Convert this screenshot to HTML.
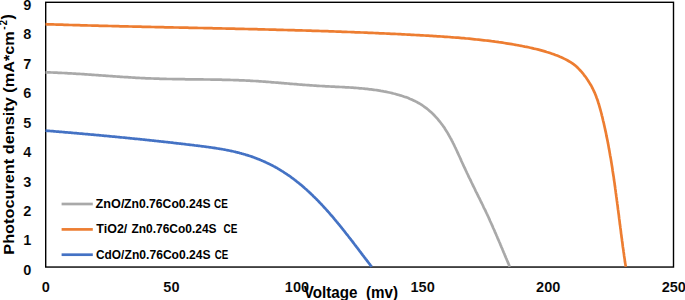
<!DOCTYPE html>
<html><head><meta charset="utf-8">
<style>
html,body{margin:0;padding:0;background:#fff;}
body{width:685px;height:300px;overflow:hidden;}
svg{display:block;}
text{font-family:"Liberation Sans",sans-serif;font-weight:bold;fill:#000;}
</style></head><body>
<svg width="685" height="300" viewBox="0 0 685 300">
<rect x="0" y="0" width="685" height="300" fill="#fff"/>
<rect x="45.7" y="2.3" width="627.8" height="264.75" fill="none" stroke="#000" stroke-width="1.4"/>
<path d="M45.5,72.3 L46.9,72.4 L48.3,72.4 L49.8,72.4 L51.2,72.5 L52.6,72.5 L54.0,72.6 L55.4,72.7 L56.9,72.7 L58.3,72.8 L59.7,72.8 L61.1,72.9 L62.5,73.0 L63.9,73.0 L65.4,73.1 L66.8,73.2 L68.2,73.3 L69.6,73.3 L71.0,73.4 L72.4,73.5 L73.9,73.6 L75.3,73.7 L76.7,73.8 L78.1,73.9 L79.5,73.9 L80.9,74.0 L82.3,74.1 L83.8,74.2 L85.2,74.3 L86.6,74.4 L88.0,74.5 L89.4,74.6 L90.8,74.7 L92.2,74.8 L93.6,74.9 L95.1,75.0 L96.5,75.1 L97.9,75.2 L99.3,75.3 L100.7,75.4 L102.1,75.5 L103.5,75.6 L105.0,75.7 L106.4,75.8 L107.8,75.9 L109.2,76.0 L110.6,76.1 L112.0,76.2 L113.4,76.3 L114.8,76.4 L116.3,76.5 L117.7,76.6 L119.1,76.7 L120.5,76.8 L121.9,76.9 L123.3,77.0 L124.7,77.1 L126.1,77.2 L127.6,77.2 L129.0,77.3 L130.4,77.4 L131.8,77.5 L133.2,77.6 L134.6,77.7 L136.0,77.8 L137.5,77.8 L138.9,77.9 L140.3,78.0 L141.7,78.1 L143.1,78.1 L144.5,78.2 L146.0,78.3 L147.4,78.3 L148.8,78.4 L150.2,78.4 L151.6,78.5 L153.0,78.5 L154.5,78.6 L155.9,78.6 L157.3,78.7 L158.7,78.7 L160.1,78.8 L161.5,78.8 L163.0,78.9 L164.4,78.9 L165.8,78.9 L167.2,79.0 L168.6,79.0 L170.1,79.0 L171.5,79.0 L172.9,79.1 L174.3,79.1 L175.7,79.1 L177.2,79.1 L178.6,79.2 L180.0,79.2 L181.4,79.2 L182.8,79.2 L184.3,79.2 L185.7,79.3 L187.1,79.3 L188.5,79.3 L189.9,79.3 L191.4,79.3 L192.8,79.3 L194.2,79.4 L195.6,79.4 L197.0,79.4 L198.5,79.4 L199.9,79.4 L201.3,79.4 L202.7,79.4 L204.1,79.5 L205.6,79.5 L207.0,79.5 L208.4,79.5 L209.8,79.5 L211.2,79.6 L212.7,79.6 L214.1,79.6 L215.5,79.6 L216.9,79.6 L218.3,79.7 L219.8,79.7 L221.2,79.7 L222.6,79.8 L224.0,79.8 L225.4,79.8 L226.9,79.9 L228.3,79.9 L229.7,79.9 L231.1,80.0 L232.5,80.0 L233.9,80.1 L235.4,80.1 L236.8,80.2 L238.2,80.2 L239.6,80.3 L241.0,80.3 L242.4,80.4 L243.8,80.4 L245.3,80.5 L246.7,80.6 L248.1,80.6 L249.5,80.7 L250.9,80.8 L252.3,80.9 L253.7,81.0 L255.2,81.0 L256.6,81.1 L258.0,81.2 L259.4,81.3 L260.8,81.4 L262.2,81.5 L263.6,81.6 L265.0,81.7 L266.4,81.8 L267.8,81.9 L269.3,82.0 L270.7,82.1 L272.1,82.3 L273.5,82.4 L274.9,82.5 L276.3,82.6 L277.7,82.7 L279.1,82.8 L280.5,82.9 L281.9,83.1 L283.4,83.2 L284.8,83.3 L286.2,83.4 L287.6,83.5 L289.0,83.6 L290.4,83.8 L291.8,83.9 L293.2,84.0 L294.6,84.1 L296.0,84.2 L297.5,84.3 L298.9,84.5 L300.3,84.6 L301.7,84.7 L303.1,84.8 L304.5,84.9 L305.9,85.0 L307.3,85.1 L308.8,85.2 L310.2,85.3 L311.6,85.4 L313.0,85.5 L314.4,85.6 L315.8,85.7 L317.3,85.8 L318.7,85.9 L320.1,86.0 L321.5,86.0 L322.9,86.1 L324.3,86.2 L325.8,86.3 L327.2,86.3 L328.6,86.4 L330.0,86.5 L331.5,86.6 L332.9,86.6 L334.3,86.7 L335.7,86.8 L337.1,86.8 L338.6,86.9 L340.0,87.0 L341.4,87.0 L342.8,87.1 L344.2,87.2 L345.7,87.3 L347.1,87.4 L348.5,87.4 L349.9,87.5 L351.3,87.6 L352.8,87.7 L354.2,87.8 L355.6,87.9 L357.0,88.0 L358.4,88.1 L359.8,88.3 L361.3,88.4 L362.7,88.5 L364.1,88.6 L365.5,88.8 L366.9,88.9 L368.3,89.1 L369.7,89.3 L371.1,89.4 L372.5,89.6 L373.9,89.8 L375.3,90.0 L376.7,90.2 L378.1,90.4 L379.5,90.6 L380.9,90.9 L382.3,91.1 L383.7,91.4 L385.1,91.6 L386.5,91.9 L387.9,92.2 L389.3,92.5 L390.6,92.8 L392.0,93.1 L393.4,93.5 L394.8,93.8 L396.1,94.2 L397.5,94.6 L398.9,94.9 L400.3,95.4 L401.6,95.8 L403.0,96.2 L404.3,96.7 L405.7,97.1 L407.0,97.6 L408.3,98.1 L409.6,98.7 L410.9,99.2 L412.2,99.8 L413.5,100.4 L414.8,101.0 L416.0,101.6 L417.3,102.3 L418.5,103.0 L419.7,103.7 L420.9,104.4 L422.1,105.2 L423.3,106.0 L424.4,106.8 L425.5,107.6 L426.6,108.4 L427.7,109.3 L428.8,110.2 L429.9,111.2 L430.9,112.1 L432.0,113.1 L433.0,114.0 L434.0,115.0 L435.0,116.1 L435.9,117.1 L436.9,118.2 L437.8,119.2 L438.7,120.3 L439.6,121.4 L440.5,122.5 L441.4,123.7 L442.2,124.8 L443.1,126.0 L443.9,127.1 L444.7,128.3 L445.4,129.5 L446.2,130.7 L447.0,131.9 L447.7,133.1 L448.4,134.3 L449.1,135.6 L449.8,136.8 L450.5,138.1 L451.2,139.3 L451.8,140.6 L452.5,141.8 L453.1,143.1 L453.8,144.4 L454.4,145.7 L455.0,147.0 L455.6,148.2 L456.2,149.5 L456.8,150.8 L457.4,152.1 L458.0,153.4 L458.6,154.7 L459.2,156.0 L459.8,157.3 L460.4,158.6 L461.0,159.9 L461.5,161.2 L462.1,162.5 L462.7,163.8 L463.3,165.1 L463.9,166.4 L464.5,167.6 L465.1,168.9 L465.7,170.2 L466.3,171.5 L466.9,172.8 L467.5,174.0 L468.1,175.3 L468.7,176.6 L469.3,177.9 L470.0,179.1 L470.6,180.4 L471.2,181.7 L471.8,183.0 L472.4,184.2 L473.0,185.5 L473.7,186.8 L474.3,188.0 L474.9,189.3 L475.5,190.6 L476.1,191.8 L476.8,193.1 L477.4,194.4 L478.0,195.6 L478.6,196.9 L479.3,198.2 L479.9,199.4 L480.5,200.7 L481.1,202.0 L481.8,203.2 L482.4,204.5 L483.0,205.8 L483.6,207.1 L484.2,208.3 L484.9,209.6 L485.5,210.9 L486.1,212.2 L486.7,213.5 L487.3,214.7 L487.9,216.0 L488.5,217.3 L489.1,218.6 L489.7,219.9 L490.2,221.2 L490.8,222.5 L491.4,223.8 L492.0,225.1 L492.6,226.4 L493.1,227.7 L493.7,229.0 L494.3,230.3 L494.8,231.6 L495.4,232.9 L496.0,234.2 L496.5,235.5 L497.1,236.8 L497.6,238.1 L498.2,239.4 L498.8,240.7 L499.3,242.0 L499.9,243.3 L500.4,244.6 L501.0,245.9 L501.5,247.2 L502.1,248.5 L502.6,249.8 L503.2,251.2 L503.7,252.5 L504.3,253.8 L504.8,255.1 L505.4,256.4 L505.9,257.7 L506.5,259.0 L507.0,260.3 L507.6,261.6 L508.1,262.9 L508.7,264.2 L509.2,265.5 L509.8,266.8" fill="none" stroke="#A9A9A9" stroke-width="2.7" stroke-linejoin="round"/>
<path d="M45.5,24.2 L47.4,24.3 L49.2,24.3 L51.1,24.4 L53.0,24.4 L54.8,24.5 L56.7,24.6 L58.6,24.6 L60.4,24.7 L62.3,24.7 L64.2,24.8 L66.0,24.8 L67.9,24.9 L69.8,25.0 L71.6,25.0 L73.5,25.1 L75.4,25.1 L77.2,25.2 L79.1,25.2 L81.0,25.3 L82.8,25.3 L84.7,25.4 L86.6,25.4 L88.4,25.5 L90.3,25.5 L92.2,25.6 L94.0,25.6 L95.9,25.7 L97.8,25.7 L99.6,25.8 L101.5,25.8 L103.4,25.9 L105.2,25.9 L107.1,25.9 L109.0,26.0 L110.8,26.0 L112.7,26.1 L114.6,26.1 L116.4,26.2 L118.3,26.2 L120.2,26.3 L122.0,26.3 L123.9,26.4 L125.8,26.4 L127.6,26.4 L129.5,26.5 L131.4,26.5 L133.2,26.6 L135.1,26.6 L137.0,26.6 L138.8,26.7 L140.7,26.7 L142.6,26.8 L144.5,26.8 L146.3,26.9 L148.2,26.9 L150.1,26.9 L151.9,27.0 L153.8,27.0 L155.7,27.1 L157.5,27.1 L159.4,27.1 L161.3,27.2 L163.1,27.2 L165.0,27.3 L166.9,27.3 L168.7,27.3 L170.6,27.4 L172.5,27.4 L174.3,27.5 L176.2,27.5 L178.1,27.5 L179.9,27.6 L181.8,27.6 L183.7,27.6 L185.6,27.7 L187.4,27.7 L189.3,27.8 L191.2,27.8 L193.0,27.8 L194.9,27.9 L196.8,27.9 L198.6,28.0 L200.5,28.0 L202.4,28.0 L204.2,28.1 L206.1,28.1 L208.0,28.2 L209.8,28.2 L211.7,28.2 L213.6,28.3 L215.5,28.3 L217.3,28.4 L219.2,28.4 L221.1,28.4 L222.9,28.5 L224.8,28.5 L226.7,28.6 L228.5,28.6 L230.4,28.6 L232.3,28.7 L234.1,28.7 L236.0,28.8 L237.9,28.8 L239.7,28.8 L241.6,28.9 L243.5,28.9 L245.4,29.0 L247.2,29.0 L249.1,29.1 L251.0,29.1 L252.8,29.2 L254.7,29.2 L256.6,29.2 L258.4,29.3 L260.3,29.3 L262.2,29.4 L264.0,29.4 L265.9,29.5 L267.8,29.5 L269.6,29.6 L271.5,29.6 L273.4,29.7 L275.2,29.7 L277.1,29.8 L279.0,29.8 L280.8,29.9 L282.7,29.9 L284.6,30.0 L286.5,30.0 L288.3,30.1 L290.2,30.1 L292.1,30.2 L293.9,30.2 L295.8,30.3 L297.7,30.3 L299.5,30.4 L301.4,30.4 L303.3,30.5 L305.1,30.5 L307.0,30.6 L308.9,30.6 L310.7,30.7 L312.6,30.8 L314.5,30.8 L316.3,30.9 L318.2,30.9 L320.1,31.0 L321.9,31.1 L323.8,31.1 L325.7,31.2 L327.5,31.2 L329.4,31.3 L331.3,31.4 L333.1,31.4 L335.0,31.5 L336.9,31.6 L338.7,31.6 L340.6,31.7 L342.5,31.8 L344.3,31.8 L346.2,31.9 L348.1,32.0 L349.9,32.0 L351.8,32.1 L353.7,32.2 L355.5,32.3 L357.4,32.3 L359.3,32.4 L361.1,32.5 L363.0,32.5 L364.9,32.6 L366.7,32.7 L368.6,32.8 L370.5,32.9 L372.3,32.9 L374.2,33.0 L376.1,33.1 L377.9,33.2 L379.8,33.3 L381.7,33.3 L383.5,33.4 L385.4,33.5 L387.3,33.6 L389.1,33.7 L391.0,33.8 L392.9,33.9 L394.7,33.9 L396.6,34.0 L398.4,34.1 L400.3,34.2 L402.2,34.3 L404.0,34.4 L405.9,34.5 L407.8,34.6 L409.6,34.7 L411.5,34.8 L413.4,34.9 L415.2,35.0 L417.1,35.1 L419.0,35.2 L420.8,35.3 L422.7,35.4 L424.5,35.5 L426.4,35.6 L428.3,35.7 L430.1,35.8 L432.0,35.9 L433.9,36.1 L435.7,36.2 L437.6,36.3 L439.4,36.4 L441.3,36.5 L443.2,36.6 L445.0,36.8 L446.9,36.9 L448.8,37.0 L450.6,37.2 L452.5,37.3 L454.3,37.5 L456.2,37.6 L458.1,37.7 L459.9,37.9 L461.8,38.1 L463.6,38.2 L465.5,38.4 L467.4,38.5 L469.2,38.7 L471.1,38.9 L472.9,39.1 L474.8,39.3 L476.6,39.5 L478.5,39.7 L480.4,39.9 L482.2,40.1 L484.1,40.3 L485.9,40.5 L487.8,40.7 L489.6,40.9 L491.5,41.2 L493.3,41.4 L495.2,41.7 L497.0,41.9 L498.9,42.2 L500.7,42.4 L502.6,42.7 L504.4,43.0 L506.3,43.3 L508.1,43.6 L510.0,43.9 L511.8,44.2 L513.7,44.5 L515.5,44.8 L517.4,45.2 L519.2,45.5 L521.1,45.8 L522.9,46.2 L524.8,46.6 L526.6,46.9 L528.4,47.3 L530.3,47.7 L532.1,48.1 L533.9,48.6 L535.8,49.0 L537.6,49.4 L539.4,49.9 L541.2,50.4 L543.0,50.9 L544.8,51.4 L546.6,52.0 L548.4,52.5 L550.1,53.1 L551.9,53.7 L553.7,54.3 L555.4,55.0 L557.1,55.6 L558.9,56.3 L560.6,57.1 L562.3,57.8 L564.0,58.6 L565.6,59.4 L567.3,60.3 L568.9,61.2 L570.5,62.1 L572.0,63.1 L573.5,64.2 L575.0,65.3 L576.4,66.5 L577.7,67.8 L579.0,69.1 L580.3,70.5 L581.6,71.9 L582.8,73.3 L583.9,74.8 L585.1,76.3 L586.2,77.8 L587.3,79.4 L588.3,81.0 L589.3,82.6 L590.3,84.2 L591.3,85.8 L592.1,87.5 L593.0,89.2 L593.8,90.9 L594.6,92.6 L595.3,94.3 L596.0,96.0 L596.6,97.7 L597.3,99.5 L597.9,101.3 L598.4,103.0 L599.0,104.8 L599.5,106.6 L600.0,108.4 L600.5,110.2 L601.0,112.0 L601.5,113.8 L601.9,115.6 L602.4,117.4 L602.8,119.2 L603.2,121.0 L603.7,122.8 L604.1,124.7 L604.5,126.5 L604.9,128.3 L605.3,130.1 L605.7,131.9 L606.1,133.8 L606.4,135.6 L606.8,137.4 L607.2,139.2 L607.6,141.1 L607.9,142.9 L608.3,144.7 L608.6,146.6 L608.9,148.4 L609.3,150.2 L609.6,152.1 L609.9,153.9 L610.2,155.8 L610.6,157.6 L610.9,159.4 L611.2,161.3 L611.5,163.1 L611.8,165.0 L612.1,166.8 L612.4,168.7 L612.6,170.5 L612.9,172.4 L613.2,174.2 L613.5,176.1 L613.8,177.9 L614.0,179.8 L614.3,181.6 L614.6,183.5 L614.8,185.3 L615.1,187.2 L615.3,189.0 L615.6,190.9 L615.8,192.7 L616.1,194.6 L616.3,196.4 L616.6,198.3 L616.8,200.2 L617.1,202.0 L617.3,203.9 L617.6,205.7 L617.8,207.6 L618.0,209.4 L618.3,211.3 L618.5,213.1 L618.8,215.0 L619.0,216.9 L619.2,218.7 L619.5,220.6 L619.7,222.4 L619.9,224.3 L620.2,226.1 L620.4,228.0 L620.7,229.8 L620.9,231.7 L621.1,233.6 L621.4,235.4 L621.6,237.3 L621.9,239.1 L622.1,241.0 L622.4,242.8 L622.6,244.7 L622.8,246.5 L623.1,248.4 L623.4,250.2 L623.6,252.0 L623.9,253.9 L624.1,255.7 L624.4,257.6 L624.7,259.4 L624.9,261.3 L625.2,263.1 L625.5,264.9 L625.8,266.8" fill="none" stroke="#ED7D31" stroke-width="2.7" stroke-linejoin="round"/>
<path d="M45.5,130.6 L46.4,130.7 L47.4,130.8 L48.3,130.9 L49.2,130.9 L50.2,131.0 L51.1,131.1 L52.0,131.2 L53.0,131.2 L53.9,131.3 L54.9,131.4 L55.8,131.5 L56.7,131.6 L57.7,131.6 L58.6,131.7 L59.5,131.8 L60.5,131.9 L61.4,131.9 L62.3,132.0 L63.3,132.1 L64.2,132.2 L65.2,132.3 L66.1,132.3 L67.0,132.4 L68.0,132.5 L68.9,132.6 L69.8,132.7 L70.8,132.7 L71.7,132.8 L72.6,132.9 L73.6,133.0 L74.5,133.1 L75.4,133.1 L76.4,133.2 L77.3,133.3 L78.2,133.4 L79.2,133.5 L80.1,133.6 L81.0,133.6 L82.0,133.7 L82.9,133.8 L83.8,133.9 L84.8,134.0 L85.7,134.1 L86.6,134.1 L87.6,134.2 L88.5,134.3 L89.4,134.4 L90.4,134.5 L91.3,134.6 L92.2,134.6 L93.2,134.7 L94.1,134.8 L95.0,134.9 L96.0,135.0 L96.9,135.1 L97.8,135.2 L98.7,135.2 L99.7,135.3 L100.6,135.4 L101.5,135.5 L102.5,135.6 L103.4,135.7 L104.3,135.8 L105.3,135.8 L106.2,135.9 L107.1,136.0 L108.1,136.1 L109.0,136.2 L109.9,136.3 L110.9,136.4 L111.8,136.5 L112.7,136.6 L113.6,136.6 L114.6,136.7 L115.5,136.8 L116.4,136.9 L117.4,137.0 L118.3,137.1 L119.2,137.2 L120.2,137.3 L121.1,137.4 L122.0,137.5 L123.0,137.5 L123.9,137.6 L124.8,137.7 L125.7,137.8 L126.7,137.9 L127.6,138.0 L128.5,138.1 L129.5,138.2 L130.4,138.3 L131.3,138.4 L132.3,138.5 L133.2,138.6 L134.1,138.7 L135.1,138.8 L136.0,138.8 L136.9,138.9 L137.8,139.0 L138.8,139.1 L139.7,139.2 L140.6,139.3 L141.6,139.4 L142.5,139.5 L143.4,139.6 L144.4,139.7 L145.3,139.8 L146.2,139.9 L147.1,140.0 L148.1,140.1 L149.0,140.2 L149.9,140.3 L150.9,140.4 L151.8,140.5 L152.7,140.6 L153.7,140.7 L154.6,140.8 L155.5,140.9 L156.4,141.0 L157.4,141.1 L158.3,141.2 L159.2,141.3 L160.2,141.4 L161.1,141.5 L162.0,141.6 L163.0,141.7 L163.9,141.8 L164.8,141.9 L165.8,142.0 L166.7,142.1 L167.6,142.2 L168.5,142.3 L169.5,142.4 L170.4,142.5 L171.3,142.6 L172.3,142.7 L173.2,142.8 L174.1,143.0 L175.1,143.1 L176.0,143.2 L176.9,143.3 L177.9,143.4 L178.8,143.5 L179.7,143.6 L180.7,143.7 L181.6,143.8 L182.5,143.9 L183.4,144.0 L184.4,144.1 L185.3,144.2 L186.2,144.4 L187.2,144.5 L188.1,144.6 L189.0,144.7 L190.0,144.8 L190.9,144.9 L191.8,145.0 L192.8,145.1 L193.7,145.2 L194.6,145.4 L195.6,145.5 L196.5,145.6 L197.4,145.7 L198.4,145.8 L199.3,145.9 L200.2,146.0 L201.2,146.2 L202.1,146.3 L203.0,146.4 L204.0,146.5 L204.9,146.6 L205.8,146.8 L206.8,146.9 L207.7,147.0 L208.6,147.1 L209.5,147.3 L210.5,147.4 L211.4,147.5 L212.3,147.7 L213.3,147.8 L214.2,147.9 L215.1,148.1 L216.1,148.2 L217.0,148.4 L217.9,148.5 L218.8,148.7 L219.8,148.8 L220.7,149.0 L221.6,149.1 L222.5,149.3 L223.5,149.5 L224.4,149.6 L225.3,149.8 L226.2,150.0 L227.1,150.2 L228.1,150.3 L229.0,150.5 L229.9,150.7 L230.8,150.9 L231.7,151.1 L232.6,151.3 L233.6,151.5 L234.5,151.7 L235.4,151.9 L236.3,152.2 L237.2,152.4 L238.1,152.6 L239.0,152.8 L239.9,153.1 L240.8,153.3 L241.7,153.6 L242.6,153.8 L243.5,154.1 L244.5,154.3 L245.3,154.6 L246.2,154.9 L247.1,155.1 L248.0,155.4 L248.9,155.7 L249.8,156.0 L250.7,156.3 L251.6,156.6 L252.5,156.9 L253.4,157.2 L254.3,157.6 L255.1,157.9 L256.0,158.2 L256.9,158.6 L257.8,158.9 L258.6,159.2 L259.5,159.6 L260.4,160.0 L261.3,160.3 L262.1,160.7 L263.0,161.1 L263.8,161.4 L264.7,161.8 L265.5,162.2 L266.4,162.6 L267.2,163.0 L268.1,163.4 L268.9,163.8 L269.8,164.2 L270.6,164.6 L271.4,165.1 L272.3,165.5 L273.1,165.9 L273.9,166.4 L274.7,166.8 L275.6,167.3 L276.4,167.7 L277.2,168.2 L278.0,168.7 L278.8,169.1 L279.6,169.6 L280.4,170.1 L281.2,170.6 L282.0,171.1 L282.8,171.5 L283.5,172.0 L284.3,172.6 L285.1,173.1 L285.9,173.6 L286.7,174.1 L287.4,174.6 L288.2,175.1 L288.9,175.7 L289.7,176.2 L290.5,176.7 L291.2,177.3 L292.0,177.8 L292.7,178.4 L293.5,178.9 L294.2,179.5 L294.9,180.1 L295.7,180.6 L296.4,181.2 L297.1,181.8 L297.9,182.4 L298.6,182.9 L299.3,183.5 L300.0,184.1 L300.8,184.7 L301.5,185.3 L302.2,185.9 L302.9,186.5 L303.6,187.1 L304.3,187.7 L305.0,188.4 L305.7,189.0 L306.4,189.6 L307.1,190.2 L307.8,190.9 L308.5,191.5 L309.2,192.1 L309.8,192.8 L310.5,193.4 L311.2,194.0 L311.9,194.7 L312.6,195.3 L313.2,196.0 L313.9,196.7 L314.6,197.3 L315.2,198.0 L315.9,198.6 L316.6,199.3 L317.2,200.0 L317.9,200.6 L318.5,201.3 L319.2,202.0 L319.8,202.7 L320.5,203.4 L321.1,204.0 L321.8,204.7 L322.4,205.4 L323.1,206.1 L323.7,206.8 L324.3,207.5 L325.0,208.2 L325.6,208.9 L326.3,209.6 L326.9,210.3 L327.5,211.0 L328.1,211.7 L328.8,212.4 L329.4,213.1 L330.0,213.8 L330.6,214.6 L331.2,215.3 L331.9,216.0 L332.5,216.7 L333.1,217.4 L333.7,218.1 L334.3,218.9 L334.9,219.6 L335.5,220.3 L336.1,221.0 L336.7,221.8 L337.3,222.5 L337.9,223.2 L338.5,224.0 L339.1,224.7 L339.7,225.4 L340.3,226.2 L340.9,226.9 L341.5,227.6 L342.1,228.4 L342.7,229.1 L343.3,229.9 L343.9,230.6 L344.5,231.3 L345.0,232.1 L345.6,232.8 L346.2,233.6 L346.8,234.3 L347.4,235.0 L348.0,235.8 L348.5,236.5 L349.1,237.3 L349.7,238.0 L350.3,238.8 L350.8,239.5 L351.4,240.2 L352.0,241.0 L352.6,241.7 L353.1,242.5 L353.7,243.2 L354.3,244.0 L354.8,244.7 L355.4,245.5 L356.0,246.2 L356.5,246.9 L357.1,247.7 L357.7,248.4 L358.2,249.2 L358.8,249.9 L359.4,250.7 L359.9,251.4 L360.5,252.1 L361.1,252.9 L361.6,253.6 L362.2,254.4 L362.7,255.1 L363.3,255.8 L363.9,256.6 L364.4,257.3 L365.0,258.0 L365.5,258.8 L366.1,259.5 L366.7,260.2 L367.2,261.0 L367.8,261.7 L368.3,262.4 L368.9,263.1 L369.4,263.9 L370.0,264.6 L370.5,265.3 L371.1,266.0 L371.7,266.8" fill="none" stroke="#4472C4" stroke-width="2.7" stroke-linejoin="round"/>
<!-- y tick labels -->
<g font-size="14" text-anchor="middle" stroke="#fff" stroke-width="0.12">
<text x="27.4" y="274.8" textLength="8.1" lengthAdjust="spacingAndGlyphs">0</text>
<text x="27.4" y="245.3" textLength="8.1" lengthAdjust="spacingAndGlyphs">1</text>
<text x="27.4" y="215.9" textLength="8.1" lengthAdjust="spacingAndGlyphs">2</text>
<text x="27.4" y="186.5" textLength="8.1" lengthAdjust="spacingAndGlyphs">3</text>
<text x="27.4" y="157.1" textLength="8.1" lengthAdjust="spacingAndGlyphs">4</text>
<text x="27.4" y="127.7" textLength="8.1" lengthAdjust="spacingAndGlyphs">5</text>
<text x="27.4" y="98.3" textLength="8.1" lengthAdjust="spacingAndGlyphs">6</text>
<text x="27.4" y="68.8" textLength="8.1" lengthAdjust="spacingAndGlyphs">7</text>
<text x="27.4" y="39.4" textLength="8.1" lengthAdjust="spacingAndGlyphs">8</text>
<text x="27.4" y="10.0" textLength="8.1" lengthAdjust="spacingAndGlyphs">9</text>
</g>
<!-- x tick labels -->
<g font-size="14" text-anchor="middle" stroke="#fff" stroke-width="0.12">
<text x="45.8" y="291.7" textLength="8.1" lengthAdjust="spacingAndGlyphs">0</text>
<text x="171.4" y="291.7" textLength="16.2" lengthAdjust="spacingAndGlyphs">50</text>
<text x="297.0" y="291.7" textLength="24.3" lengthAdjust="spacingAndGlyphs">100</text>
<text x="422.6" y="291.7" textLength="24.3" lengthAdjust="spacingAndGlyphs">150</text>
<text x="548.2" y="291.7" textLength="24.3" lengthAdjust="spacingAndGlyphs">200</text>
<text x="673.8" y="291.7" textLength="24.3" lengthAdjust="spacingAndGlyphs">250</text>
</g>
<!-- x title -->
<text x="303.8" y="297.6" font-size="16.5" textLength="94.3" lengthAdjust="spacingAndGlyphs">Voltage&#160;&#160;(mv)</text>
<!-- y title -->
<g transform="translate(13.5,254.7) rotate(-90)">
<text x="0" y="0" font-size="14.6" textLength="223.5" lengthAdjust="spacingAndGlyphs">Photocurent density (mA*cm</text>
<text x="224.9" y="-6.1" font-size="11.5" textLength="3.4" lengthAdjust="spacingAndGlyphs">-</text>
<text x="229.4" y="-6.1" font-size="10.8" textLength="5.2" lengthAdjust="spacingAndGlyphs">2</text>
<text x="235.2" y="-0.8" font-size="15.8" textLength="5.2" lengthAdjust="spacingAndGlyphs">)</text>
</g>
<!-- legend -->
<line x1="61.6" y1="204" x2="92.8" y2="204" stroke="#A9A9A9" stroke-width="2.7"/>
<line x1="61.6" y1="229.4" x2="92.8" y2="229.4" stroke="#ED7D31" stroke-width="2.7"/>
<line x1="61.6" y1="254.7" x2="92.8" y2="254.7" stroke="#4472C4" stroke-width="2.7"/>
<g font-size="12">
<text x="95.6" y="207.9" textLength="28.8" lengthAdjust="spacingAndGlyphs">ZnO/</text>
<text x="124.1" y="207.9" textLength="86.5" lengthAdjust="spacingAndGlyphs">Zn0.76Co0.24S</text>
<text x="214.0" y="207.9" textLength="13.8" lengthAdjust="spacingAndGlyphs">CE</text>
<text x="96.3" y="233.3" textLength="31.0" lengthAdjust="spacingAndGlyphs">TiO2/</text>
<text x="131.5" y="233.3" textLength="85.0" lengthAdjust="spacingAndGlyphs">Zn0.76Co0.24S</text>
<text x="223.5" y="233.3" textLength="13.8" lengthAdjust="spacingAndGlyphs">CE</text>
<text x="96.0" y="258.7" textLength="28.4" lengthAdjust="spacingAndGlyphs">CdO/</text>
<text x="124.6" y="258.7" textLength="86.0" lengthAdjust="spacingAndGlyphs">Zn0.76Co0.24S</text>
<text x="214.7" y="258.7" textLength="13.5" lengthAdjust="spacingAndGlyphs">CE</text>
</g>
</svg>
</body></html>
